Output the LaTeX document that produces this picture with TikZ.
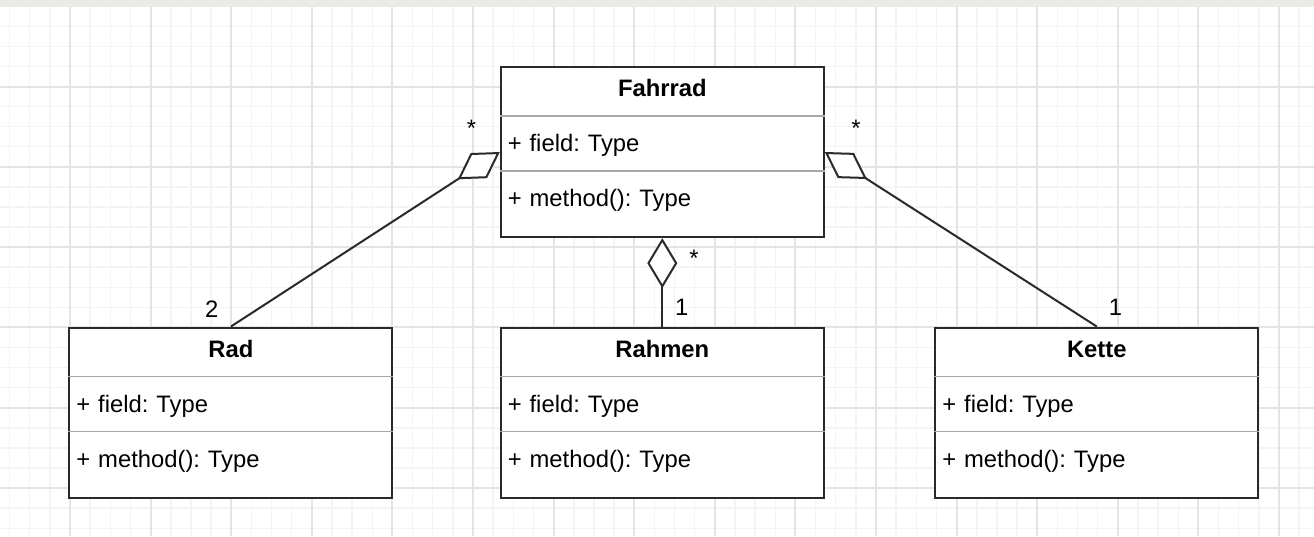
\documentclass[tikz,border=0pt]{standalone}
\usepackage{color}
\usepackage{fontspec}
\setmainfont{Liberation Sans}
\usepackage{tikz}
\usetikzlibrary{calc,positioning,shapes,arrows.meta}
\frenchspacing
\definecolor{bandgray}{HTML}{ECEAE4}
\definecolor{minorgrid}{HTML}{F4F4F4}
\definecolor{majorgrid}{HTML}{E4E4E4}
\definecolor{boxline}{HTML}{2A2A2A}
\definecolor{splitgray}{HTML}{A8A8A8}
\newcommand{\umlfont}{\fontsize{23.8}{28}\selectfont}
\newcommand{\headrow}[1]{\rule[-18pt]{0pt}{47pt}\hspace*{\fill}\textbf{#1}\hspace*{\fill}\null}
\newcommand{\fieldrow}{\rule[-18pt]{0pt}{53pt}+ field: Type}
\newcommand{\methodrow}{\rule[-29.3pt]{0pt}{64.3pt}+ method(): Type}
\tikzstyle{umlclass} = [rectangle split, rectangle split parts=3,
    rectangle split draw splits=false, draw=boxline, line width=2pt,
    fill=white, text width=309pt, align=left, inner xsep=7pt,
    inner ysep=0pt, font=\umlfont]
\tikzstyle{classsplit} = [draw=splitgray, line width=1.5pt]
\tikzstyle{agg} = [line width=2pt, draw=boxline,
    -{Diamond[length=50pt,width=30pt,fill=white]}]
\tikzstyle{mult} = [anchor=base, inner sep=0pt, font=\umlfont]

\begin{document}
\begin{tikzpicture}[x=1pt,y=-1pt]
        \useasboundingbox (0,0) rectangle (1314,536);
        % paper with grid
        \fill [white] (0,0) rectangle (1314,536);
        \foreach \i in {-3,...,61}
            \draw [minorgrid, line width=1.5pt] (70+20.15*\i,0) -- (70+20.15*\i,536);
        \foreach \i in {-4,...,22}
            \draw [minorgrid, line width=1.5pt] (0,86.5+20.08*\i) -- (1314,86.5+20.08*\i);
        \foreach \i in {0,...,15}
            \draw [majorgrid, line width=2pt] (70+80.6*\i,0) -- (70+80.6*\i,536);
        \foreach \i in {0,...,5}
            \draw [majorgrid, line width=2pt] (0,86.5+80.3*\i) -- (1314,86.5+80.3*\i);
        \fill [bandgray] (0,0) rectangle (1314,7.3);

        \node (fahrrad) [umlclass] at (662.3,152) {\headrow{Fahrrad}
            \nodepart{two}\fieldrow\nodepart{three}\methodrow};
        \node (rahmen) [umlclass, below=88.4pt of fahrrad] {\headrow{Rahmen}
            \nodepart{two}\fieldrow\nodepart{three}\methodrow};
        \node (rad) [umlclass, left=106.4pt of rahmen] {\headrow{Rad}
            \nodepart{two}\fieldrow\nodepart{three}\methodrow};
        \node (kette) [umlclass, right=109.5pt of rahmen] {\headrow{Kette}
            \nodepart{two}\fieldrow\nodepart{three}\methodrow};
        \foreach \c in {fahrrad,rahmen,rad,kette} {
            \draw [classsplit] (\c.text split west) -- (\c.text split east);
            \draw [classsplit] (\c.two split west) -- (\c.two split east);
        }

        \draw [agg] (rad.north) -- (fahrrad.west);
        \draw [agg] (rahmen.north) -- (fahrrad.south);
        \draw [agg] (kette.north) -- (fahrrad.east);

        \node (multRadTop) [mult] at ($(fahrrad.west)+(-28.4,-15.4)$) {*};
        \node (multRad) [mult] at ($(rad.north)+(-19.1,-9.3)$) {2};
        \node (multRahmenTop) [mult] at ($(fahrrad.south)+(31.7,28)$) {*};
        \node (multRahmen) [mult] at ($(rahmen.north)+(19.4,-11)$) {1};
        \node (multKetteTop) [mult] at ($(fahrrad.east)+(31.1,-15.4)$) {*};
        \node (multKette) [mult] at ($(kette.north)+(18.7,-11.3)$) {1};
    \end{tikzpicture}
\end{document}
